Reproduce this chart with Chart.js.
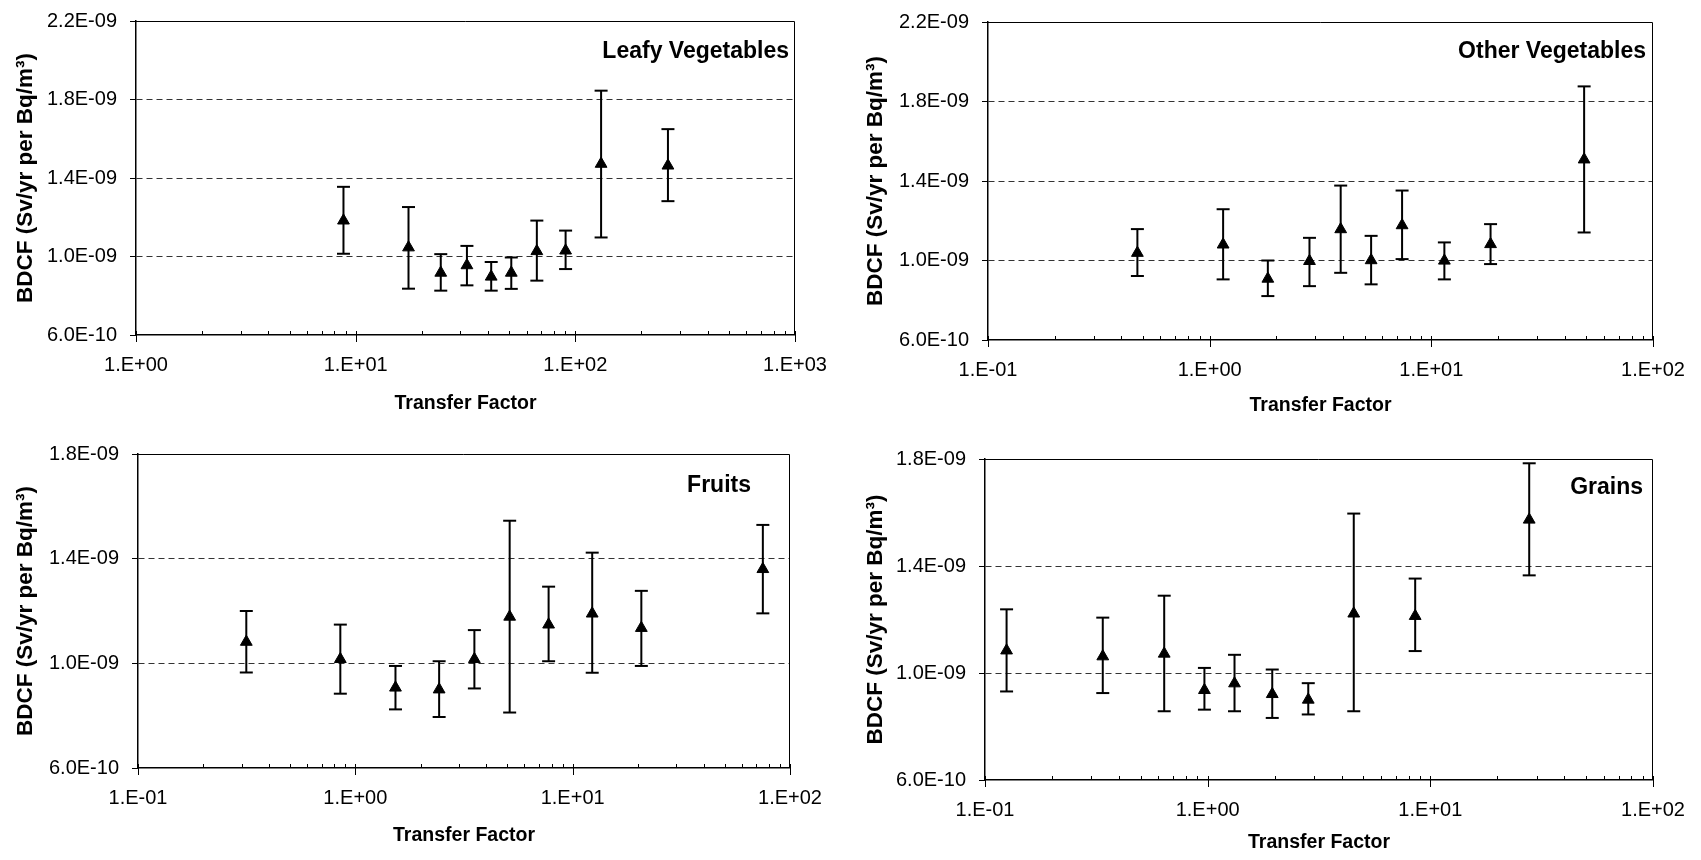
<!DOCTYPE html>
<html>
<head>
<meta charset="utf-8">
<script src="https://cdn.jsdelivr.net/npm/chart.js@4.4.1/dist/chart.umd.min.js"></script>
<style>
  html, body { margin: 0; padding: 0; background: #fff; }
  #wrap { position: relative; width: 1701px; height: 860px; }
  canvas { position: absolute; }
</style>
</head>
<body>
<div id="wrap">
  <canvas id="leafy" width="850" height="430" style="left:0;top:0"></canvas>
  <canvas id="other" width="851" height="430" style="left:850px;top:0"></canvas>
  <canvas id="fruits" width="850" height="430" style="left:0;top:430px"></canvas>
  <canvas id="grains" width="851" height="430" style="left:850px;top:430px"></canvas>
</div>
<script>
// Leafy vegetables
const leafyTF = [8.8, 17.4, 24.4, 32.1, 41.4, 51.1, 66.8, 90.3, 131, 264];
const leafyBDCF = [1.183e-9, 1.046e-9, 9.17e-10, 9.55e-10, 8.97e-10, 9.17e-10, 1.027e-9, 1.030e-9, 1.472e-9, 1.463e-9];
const leafyLow = [1.014e-9, 8.36e-10, 8.26e-10, 8.53e-10, 8.26e-10, 8.35e-10, 8.77e-10, 9.36e-10, 1.097e-9, 1.282e-9];
const leafyHigh = [1.355e-9, 1.252e-9, 1.012e-9, 1.054e-9, 9.72e-10, 9.95e-10, 1.183e-9, 1.132e-9, 1.845e-9, 1.649e-9];

// Other vegetables
const otherTF = [0.472, 1.15, 1.83, 2.82, 3.90, 5.35, 7.38, 11.45, 18.5, 48.9];
const otherBDCF = [1.038e-9, 1.080e-9, 9.08e-10, 9.97e-10, 1.157e-9, 1.001e-9, 1.177e-9, 9.99e-10, 1.082e-9, 1.508e-9];
const otherLow = [9.22e-10, 9.05e-10, 8.21e-10, 8.71e-10, 9.38e-10, 8.80e-10, 1.007e-9, 9.05e-10, 9.82e-10, 1.141e-9];
const otherHigh = [1.158e-9, 1.258e-9, 1.000e-9, 1.114e-9, 1.377e-9, 1.124e-9, 1.352e-9, 1.091e-9, 1.183e-9, 1.876e-9];

// Fruits
const fruitTF = [0.315, 0.853, 1.53, 2.43, 3.53, 5.13, 7.75, 12.3, 20.7, 75.0];
const fruitBDCF = [1.082e-9, 1.016e-9, 9.07e-10, 9.00e-10, 1.016e-9, 1.178e-9, 1.148e-9, 1.190e-9, 1.135e-9, 1.360e-9];
const fruitLow = [9.65e-10, 8.84e-10, 8.24e-10, 7.95e-10, 9.04e-10, 8.12e-10, 1.008e-9, 9.64e-10, 9.90e-10, 1.191e-9];
const fruitHigh = [1.200e-9, 1.148e-9, 9.90e-10, 1.008e-9, 1.127e-9, 1.545e-9, 1.293e-9, 1.423e-9, 1.277e-9, 1.529e-9];

// Grains
const grainTF = [0.125, 0.338, 0.638, 0.967, 1.32, 1.95, 2.83, 4.53, 8.55, 27.8];
const grainBDCF = [1.084e-9, 1.062e-9, 1.072e-9, 9.36e-10, 9.61e-10, 9.21e-10, 9.00e-10, 1.222e-9, 1.213e-9, 1.573e-9];
const grainLow = [9.31e-10, 9.25e-10, 8.57e-10, 8.63e-10, 8.57e-10, 8.32e-10, 8.45e-10, 8.57e-10, 1.082e-9, 1.365e-9];
const grainHigh = [1.238e-9, 1.207e-9, 1.289e-9, 1.019e-9, 1.068e-9, 1.013e-9, 9.62e-10, 1.596e-9, 1.353e-9, 1.784e-9];

// tick labels
const leafyXTicks = ["1.E+00", "1.E+01", "1.E+02", "1.E+03"];
const smallXTicks = ["1.E-01", "1.E+00", "1.E+01", "1.E+02"];
const tallYTicks = ["6.0E-10", "1.0E-09", "1.4E-09", "1.8E-09", "2.2E-09"];
const shortYTicks = ["6.0E-10", "1.0E-09", "1.4E-09", "1.8E-09"];

const xTitle = "Transfer Factor";
const yTitle = "BDCF (Sv/yr per Bq/m\u00B3)";

const FONT = "'Liberation Sans', Arial, sans-serif";
const X_TITLE_SIZE = 19.5;

// draws the top/right frame and the small log ticks on the x axis
const frameAndTicks = {
  id: "frameAndTicks",
  afterDraw(chart) {
    const { ctx, chartArea: a, scales: { x } } = chart;
    ctx.save();
    ctx.strokeStyle = "#000";
    ctx.lineWidth = 1;
    ctx.beginPath();
    ctx.moveTo(a.left, a.top + 0.5);
    ctx.lineTo(a.right - 0.5, a.top + 0.5);
    ctx.lineTo(a.right - 0.5, a.bottom);
    ctx.stroke();
    x.ticks.forEach((t) => {
      const m = t.value / Math.pow(10, Math.floor(Math.log10(t.value) + 1e-9));
      if (Math.abs(m - Math.round(m)) > 1e-6) return;
      const px = Math.round(x.getPixelForValue(t.value)) + 0.5;
      const major = Math.round(m) === 1 || Math.round(m) === 10;
      ctx.beginPath();
      ctx.moveTo(px, a.bottom - 4);
      ctx.lineTo(px, a.bottom + (major ? 7 : 0));
      ctx.stroke();
    });
    ctx.restore();
  },
};

// category name inside the plot
const panelLabel = {
  id: "panelLabel",
  afterDraw(chart, args, opts) {
    const { ctx, chartArea } = chart;
    ctx.save();
    ctx.font = "bold " + opts.size + "px " + FONT;
    ctx.fillStyle = "#000";
    ctx.textAlign = "right";
    ctx.textBaseline = "middle";
    ctx.fillText(opts.text, chartArea.right - opts.dx, chartArea.top + opts.dy);
    ctx.restore();
  },
};

function makePanel(id, p) {
  const xMin = Number(p.xTicks[0]);
  const xMax = Number(p.xTicks[p.xTicks.length - 1]);
  const yMin = Number(p.yTicks[0]);
  const yMax = Number(p.yTicks[p.yTicks.length - 1]);
  const canvas = document.getElementById(id);
  const halfTitle = (X_TITLE_SIZE * 1.2) / 2;
  const xHeight = p.titleY + halfTitle - p.bottom;

  const bars = [];
  p.tf.forEach((v, i) => {
    bars.push({ x: v, y: p.low[i] });
    bars.push({ x: v, y: p.high[i] });
    bars.push({ x: v, y: null });
  });

  return new Chart(canvas, {
    type: "scatter",
    data: {
      datasets: [
        {
          label: "error",
          data: bars,
          showLine: true,
          spanGaps: false,
          borderColor: "#000",
          borderWidth: 2,
          pointStyle: "line",
          pointRadius: 6.5,
          pointBorderWidth: 2,
          pointBorderColor: "#000",
          order: 2,
        },
        {
          label: p.name,
          data: p.tf.map((v, i) => ({ x: v, y: p.bdcf[i] })),
          pointStyle: "triangle",
          pointRadius: 6.8,
          backgroundColor: "#000",
          borderColor: "#000",
          borderWidth: 1,
          order: 1,
        },
      ],
    },
    options: {
      responsive: false,
      animation: false,
      events: [],
      layout: {
        padding: {
          left: 0,
          top: p.top,
          right: canvas.width - p.right,
          bottom: canvas.height - p.titleY - halfTitle,
        },
      },
      plugins: {
        legend: { display: false },
        tooltip: { enabled: false },
        panelLabel: { text: p.name, size: 23, dx: p.labelDx, dy: p.labelDy },
      },
      scales: {
        x: {
          type: "logarithmic",
          min: xMin,
          max: xMax,
          grid: { drawOnChartArea: false, drawTicks: false },
          border: { color: "#000", width: 1.5 },
          ticks: {
            autoSkip: false,
            maxRotation: 0,
            padding: 18.6,
            color: "#000",
            font: { family: FONT, size: 20 },
            callback: (v) => {
              const e = Math.log10(v / xMin);
              const k = Math.round(e);
              return Math.abs(e - k) < 1e-6 ? p.xTicks[k] : "";
            },
          },
          title: {
            display: true,
            text: xTitle,
            color: "#000",
            padding: 0,
            font: { family: FONT, size: X_TITLE_SIZE, weight: "bold" },
          },
          afterFit: (s) => {
            s.paddingLeft = 0;
            s.paddingRight = 0;
            s.height = xHeight;
          },
        },
        y: {
          type: "linear",
          min: yMin,
          max: yMax,
          ticks: {
            stepSize: 4e-10,
            padding: 13,
            color: "#000",
            font: { family: FONT, size: 20 },
            callback: (v, i) => p.yTicks[i],
          },
          grid: {
            color: (c) => (c.index === 0 || c.index === p.yTicks.length - 1 ? "rgba(0,0,0,0)" : "#333"),
            lineWidth: 1,
            drawTicks: true,
            tickLength: 6,
            tickColor: "#000",
            tickWidth: 1,
          },
          border: { color: "#000", width: 1.5, dash: [6, 4] },
          title: {
            display: true,
            text: yTitle,
            color: "#000",
            padding: { top: 12, bottom: 0 },
            font: { family: FONT, size: 22.5, weight: "bold" },
          },
          afterFit: (s) => {
            s.paddingTop = 0;
            s.paddingBottom = 0;
            s.width = p.left;
          },
        },
      },
    },
    plugins: [frameAndTicks, panelLabel],
  });
}

makePanel("leafy", {
  name: "Leafy Vegetables",
  tf: leafyTF, bdcf: leafyBDCF, low: leafyLow, high: leafyHigh,
  xTicks: leafyXTicks, yTicks: tallYTicks,
  left: 136, right: 795, top: 21, bottom: 335, titleY: 404,
  labelDx: 6, labelDy: 31,
});

makePanel("other", {
  name: "Other Vegetables",
  tf: otherTF, bdcf: otherBDCF, low: otherLow, high: otherHigh,
  xTicks: smallXTicks, yTicks: tallYTicks,
  left: 138, right: 803, top: 22, bottom: 340, titleY: 406,
  labelDx: 7, labelDy: 30,
});

makePanel("fruits", {
  name: "Fruits",
  tf: fruitTF, bdcf: fruitBDCF, low: fruitLow, high: fruitHigh,
  xTicks: smallXTicks, yTicks: shortYTicks,
  left: 138, right: 790, top: 24, bottom: 338, titleY: 406,
  labelDx: 39, labelDy: 32,
});

makePanel("grains", {
  name: "Grains",
  tf: grainTF, bdcf: grainBDCF, low: grainLow, high: grainHigh,
  xTicks: smallXTicks, yTicks: shortYTicks,
  left: 135, right: 803, top: 29, bottom: 350, titleY: 413,
  labelDx: 10, labelDy: 29,
});
</script>
</body>
</html>
